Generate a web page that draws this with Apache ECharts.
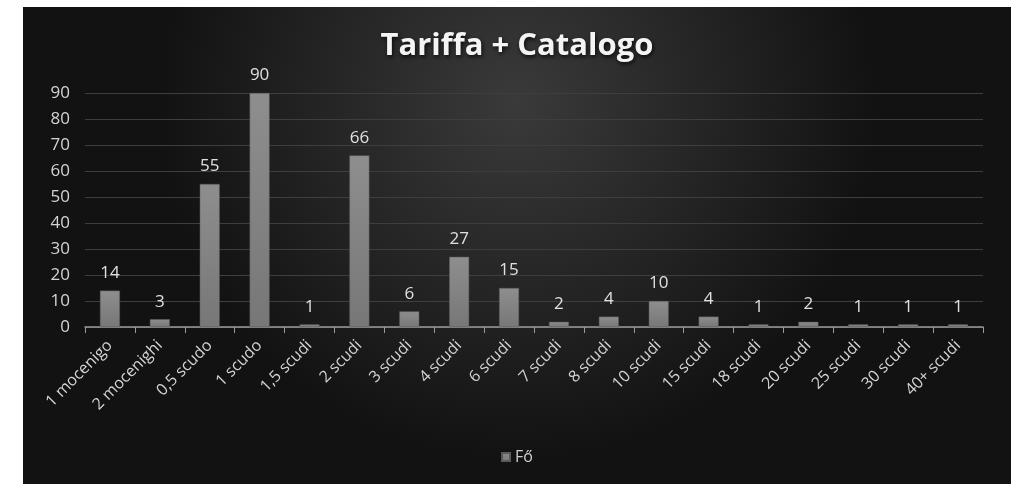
<!DOCTYPE html>
<html><head><meta charset="utf-8">
<script src="https://cdn.jsdelivr.net/npm/echarts@6/dist/echarts.min.js"></script>
<style>
html,body{margin:0;padding:0;background:#fff;width:1011px;height:484px;overflow:hidden;}
#c{position:absolute;left:23px;top:7px;width:988px;height:477px;}
</style></head>
<body><div id="c"></div>
<script>
const categories = ['1 mocenigo','2 mocenighi','0,5 scudo','1 scudo','1,5 scudi','2 scudi','3 scudi','4 scudi','6 scudi','7 scudi','8 scudi','10 scudi','15 scudi','18 scudi','20 scudi','25 scudi','30 scudi','40+ scudi'];
const values = [14,3,55,90,1,66,6,27,15,2,4,10,4,1,2,1,1,1];
const seriesName = 'Fő';
const titleText = 'Tariffa + Catalogo';
const FONT = 'Open Sans';
const chart = echarts.init(document.getElementById('c'));
chart.setOption({
  backgroundColor: {type:'radial', x:0.5, y:0.2, r:0.75, colorStops:[{offset:0,color:'#3a3a3a'},{offset:1,color:'#121212'}]},
  animation:false,
  title:{text:titleText, left:'center', top:19, textStyle:{color:'#f4f4f4', fontFamily:FONT, fontWeight:'bold', fontSize:31, textShadowColor:'rgba(0,0,0,0.8)', textShadowBlur:4, textShadowOffsetX:1, textShadowOffsetY:2}},
  legend:{bottom:14, left:'center', itemWidth:8, itemHeight:8, itemGap:5, icon:'rect', textStyle:{color:'#d0d0d0', fontFamily:FONT, fontSize:16}, data:[seriesName]},
  grid:{left:62, right:28, top:86, bottom:157, containLabel:false},
  xAxis:{type:'category', data:categories, axisLine:{lineStyle:{color:'#9a9a9a', width:1.5}}, axisTick:{show:true, length:6, lineStyle:{color:'#9a9a9a'}}, axisLabel:{rotate:45, margin:16, color:'#d4d4d4', fontFamily:FONT, fontSize:16, interval:0}},
  yAxis:{type:'value', min:0, max:90, interval:10, axisLine:{show:false}, axisTick:{show:false}, splitLine:{lineStyle:{color:'#3e3e3e', width:1}}, axisLabel:{margin:15, color:'#d4d4d4', fontFamily:FONT, fontSize:17}},
  series:[{name:seriesName, type:'bar', data:values, barWidth:'40%', itemStyle:{color:{type:'linear',x:0,y:0,x2:0,y2:1,colorStops:[{offset:0,color:'#8e8e8e'},{offset:1,color:'#777777'}]}, borderColor:'#5a5a5a', borderWidth:0.5}, label:{show:true, position:'top', distance:9, color:'#e0e0e0', fontFamily:FONT, fontSize:17}}]
});
</script></body></html>
